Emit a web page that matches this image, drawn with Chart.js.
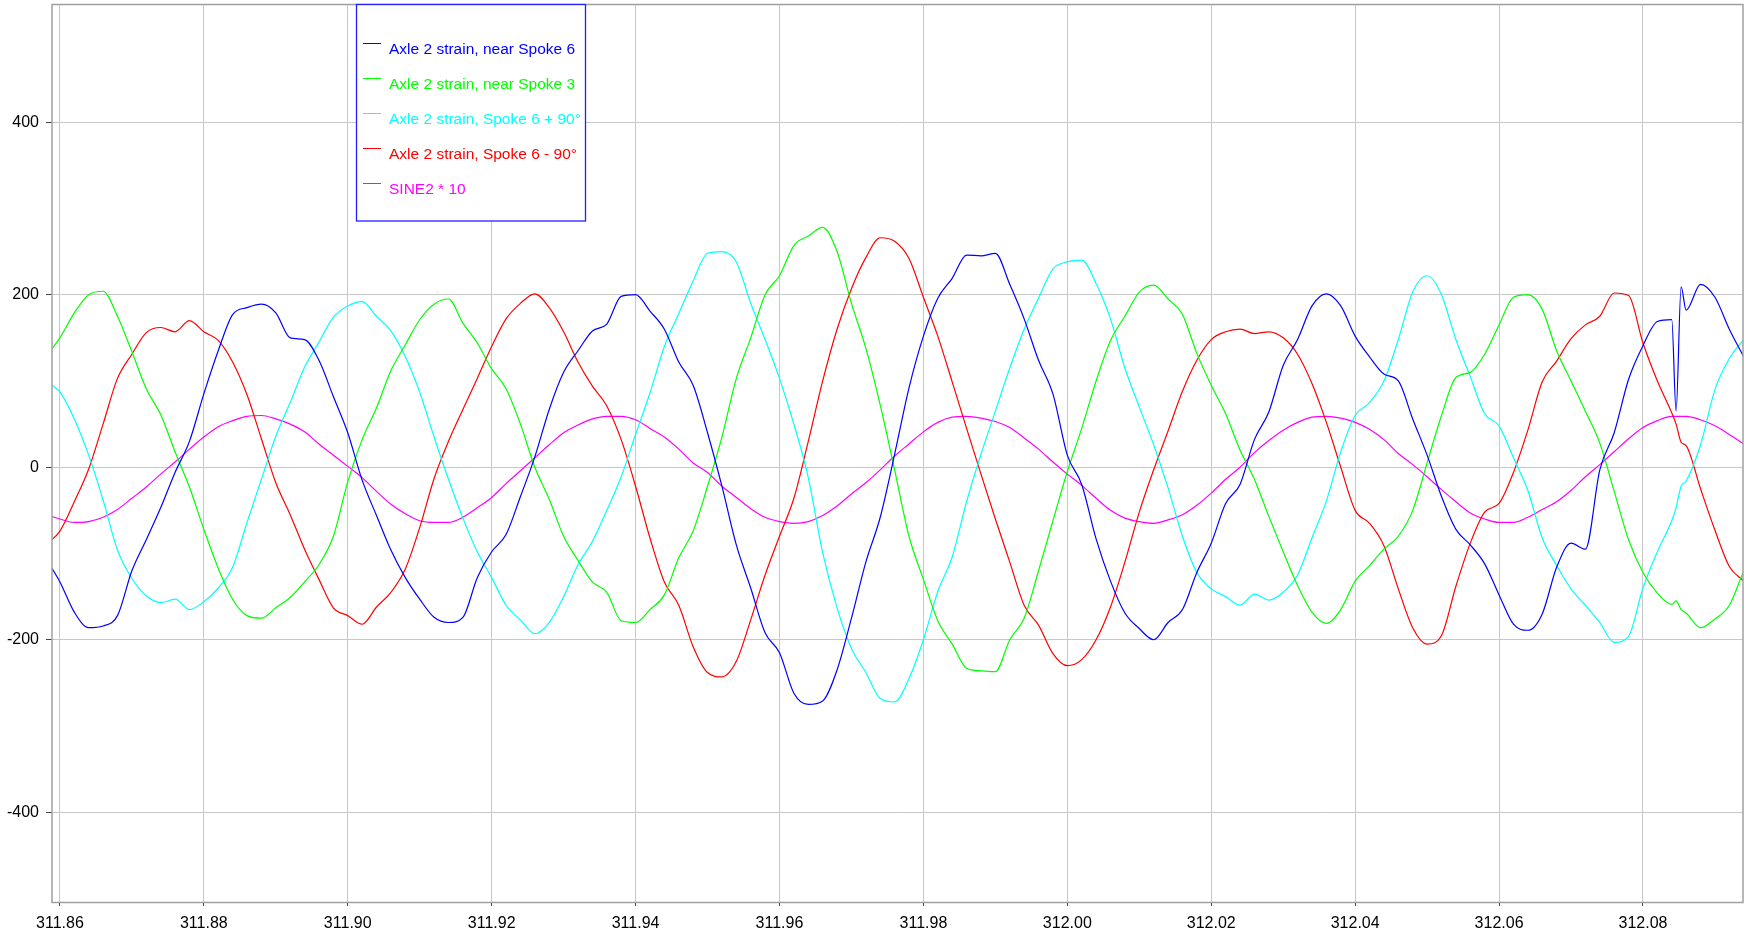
<!DOCTYPE html>
<html>
<head>
<meta charset="utf-8">
<style>
  html, body { margin: 0; padding: 0; background: #ffffff; }
  canvas { display: block; }
</style>
<script src="https://cdn.jsdelivr.net/npm/chart.js@4/dist/chart.umd.min.js"></script>
</head>
<body>
<canvas id="c" width="1750" height="937"></canvas>
<script>
// ---- data ----
const seriesLabels = [
  'Axle 2 strain, near Spoke 6',
  'Axle 2 strain, near Spoke 3',
  'Axle 2 strain, Spoke 6 + 90°',
  'Axle 2 strain, Spoke 6 - 90°',
  'SINE2 * 10'
];

const xTickValues = [311.86, 311.88, 311.90, 311.92, 311.94, 311.96, 311.98, 312.00, 312.02, 312.04, 312.06, 312.08];
const yTickValues = [-400, -200, 0, 200, 400];

const times = [
  311.858, 311.860, 311.862, 311.864, 311.866, 311.868, 311.870, 311.872, 311.874, 311.876,
  311.878, 311.880, 311.882, 311.884, 311.886, 311.888, 311.890, 311.892, 311.894, 311.896,
  311.898, 311.900, 311.902, 311.904, 311.906, 311.908, 311.910, 311.912, 311.914, 311.916,
  311.918, 311.920, 311.922, 311.924, 311.926, 311.928, 311.930, 311.932, 311.934, 311.936,
  311.938, 311.940, 311.942, 311.944, 311.946, 311.948, 311.950, 311.952, 311.954, 311.956,
  311.958, 311.960, 311.962, 311.964, 311.966, 311.968, 311.970, 311.972, 311.974, 311.976,
  311.978, 311.980, 311.982, 311.984, 311.986, 311.988, 311.990, 311.992, 311.994, 311.996,
  311.998, 312.000, 312.002, 312.004, 312.006, 312.008, 312.010, 312.012, 312.014, 312.016,
  312.018, 312.020, 312.022, 312.024, 312.026, 312.028, 312.030, 312.032, 312.034, 312.036,
  312.038, 312.040, 312.042, 312.044, 312.046, 312.048, 312.050, 312.052, 312.054, 312.056,
  312.058, 312.060, 312.062, 312.064, 312.066, 312.068, 312.070, 312.072, 312.074, 312.076,
  312.078, 312.080, 312.082, 312.084, 312.0846, 312.0853, 312.086, 312.088, 312.090, 312.092,
  312.094
];

const nearSpoke6 = [
  -105, -133, -168, -186, -184, -172, -120, -84, -47, -6,
  30, 85, 135, 177, 185, 189, 179, 150, 148, 124,
  82, 40, -15, -56, -96, -128, -153, -174, -180, -174,
  -128, -98, -78, -34, 12, 67, 110, 135, 158, 166,
  198, 200, 181, 160, 122, 95, 40, -22, -90, -140,
  -192, -215, -262, -275, -271, -235, -175, -110, -58, 15,
  92, 152, 196, 219, 246, 245, 248, 212, 172, 124,
  85, 14, -20, -83, -132, -169, -187, -200, -180, -165,
  -122, -88, -42, -20, 32, 64, 118, 148, 187, 201,
  187, 152, 128, 108, 100, 56, 14, -34, -72, -90,
  -112, -148, -182, -189, -170, -116, -88, -95, -3, 40,
  102, 141, 169, 171, 65, 209, 182, 212, 197, 160,
  128
];

const nearSpoke3 = [
  128, 150, 179, 200, 204, 175, 134, 91, 61, 18,
  -23, -72, -117, -153, -172, -175, -163, -151, -133, -113,
  -80, -17, 32, 69, 112, 142, 171, 189, 195, 167,
  144, 114, 91, 50, 0, -37, -80, -108, -133, -145,
  -178, -180, -165, -148, -105, -74, -22, 35, 103, 150,
  200, 222, 257, 268, 278, 250, 190, 138, 72, -3,
  -80, -130, -178, -205, -233, -236, -237, -200, -175, -120,
  -62, -5, 45, 100, 147, 175, 203, 211, 195, 177,
  132, 95, 62, 20, -14, -57, -98, -137, -168, -181,
  -165, -132, -114, -95, -80, -50, 5, 60, 104, 110,
  131, 165, 197, 200, 183, 135, 100, 65, 28, -28,
  -84, -122, -146, -159, -155, -165, -169, -186, -176, -160,
  -120
];

const spoke6Plus90 = [
  100, 87, 56, 14, -38, -96, -129, -149, -157, -153,
  -165, -156, -140, -116, -64, -14, 36, 75, 116, 145,
  174, 187, 192, 175, 158, 128, 87, 35, -14, -59,
  -98, -128, -160, -177, -193, -180, -150, -113, -86, -50,
  -11, 38, 86, 140, 178, 216, 248, 250, 238, 190,
  148, 103, 50, -12, -99, -163, -210, -238, -268, -272,
  -245, -200, -144, -104, -40, 15, 65, 115, 160, 196,
  230, 238, 240, 213, 172, 115, 70, 26, -24, -80,
  -122, -141, -150, -160, -147, -154, -145, -125, -82, -39,
  18, 60, 75, 100, 148, 203, 222, 200, 148, 105,
  62, 48, 11, -27, -82, -114, -141, -160, -180, -203,
  -196, -140, -98, -62, -47, -22, -16, 26, 90, 126,
  148
];

const spoke6Minus90 = [
  -90, -74, -40, -2, 50, 103, 131, 156, 162, 157,
  170, 157, 147, 122, 84, 33, -18, -55, -95, -130,
  -163, -172, -182, -162, -145, -118, -70, -13, 30, 67,
  103, 140, 172, 190, 201, 185, 157, 122, 94, 71,
  32, -22, -82, -133, -160, -208, -238, -243, -225, -177,
  -125, -80, -36, 30, 100, 160, 207, 243, 266, 262,
  242, 197, 152, 99, 45, -8, -60, -110, -160, -183,
  -216, -230, -223, -200, -162, -110, -52, -3, 42, 88,
  124, 148, 157, 160, 155, 157, 150, 131, 97, 52,
  0, -50, -65, -91, -141, -186, -205, -195, -138, -88,
  -52, -42, -6, 43, 99, 123, 149, 165, 175, 202,
  199, 144, 100, 63, 50, 29, 25, -25, -73, -115,
  -132
];

const sine2x10 = [
  -55, -60, -64, -63, -58, -49, -36, -23, -8, 6,
  21, 35, 47, 54, 59, 60, 56, 50, 41, 27,
  14, 1, -12, -28, -43, -54, -62, -64, -64, -58,
  -47, -35, -19, -4, 11, 26, 40, 49, 56, 59,
  59, 55, 45, 35, 21, 5, -6, -22, -35, -48,
  -58, -63, -65, -63, -56, -45, -31, -18, -3, 13,
  27, 41, 52, 58, 59, 57, 53, 46, 34, 21,
  6, -8, -21, -36, -50, -59, -63, -65, -61, -55,
  -44, -30, -14, 0, 17, 31, 43, 52, 58, 59,
  57, 52, 44, 32, 16, 3, -11, -26, -40, -53,
  -60, -64, -64, -58, -49, -40, -27, -11, 3, 18,
  33, 46, 54, 59, 59, 59, 59, 55, 48, 38,
  27
];

const seriesValues = [nearSpoke6, nearSpoke3, spoke6Plus90, spoke6Minus90, sine2x10];
const seriesColors = ['#0000ff', '#00ff00', '#00ffff', '#ff0000', '#ff00ff'];

// ---- chart ----
const FONT = '"Liberation Sans", Arial, Helvetica, sans-serif';

const datasets = seriesValues.map((vals, i) => ({
  label: seriesLabels[i],
  data: times.map((t, j) => ({ x: t, y: vals[j] })),
  borderColor: seriesColors[i],
  backgroundColor: seriesColors[i],
  borderWidth: 1.2,
  pointRadius: 0,
  fill: false,
  cubicInterpolationMode: 'monotone'
}));

const framePlugin = {
  id: 'frame',
  afterDatasetsDraw(chart) {
    const a = chart.chartArea, ctx = chart.ctx;
    ctx.save();
    ctx.strokeStyle = '#a0a0a0';
    ctx.lineWidth = 1.5;
    ctx.strokeRect(a.left, a.top + 0.5, a.right - a.left, a.bottom - a.top);
    ctx.restore();
  }
};

const boxLegendPlugin = {
  id: 'boxLegend',
  afterDraw(chart) {
    const ctx = chart.ctx;
    const bx = 356.5, by = 4.5, bw = 229, bh = 216.5;
    ctx.save();
    ctx.fillStyle = '#ffffff';
    ctx.fillRect(bx, by, bw, bh);
    ctx.strokeStyle = '#2020ff';
    ctx.lineWidth = 1.3;
    ctx.strokeRect(bx, by, bw, bh);
    ctx.font = '15.5px ' + FONT;
    ctx.textBaseline = 'middle';
    ctx.textAlign = 'left';
    chart.data.datasets.forEach((ds, i) => {
      const ty = 50 + 35 * i;
      ctx.strokeStyle = ds.borderColor;
      ctx.lineWidth = 1;
      ctx.beginPath();
      ctx.moveTo(363, ty - 6.5);
      ctx.lineTo(381, ty - 6.5);
      ctx.stroke();
      ctx.fillStyle = ds.borderColor;
      ctx.fillText(ds.label, 389, ty);
    });
    ctx.restore();
  }
};

new Chart(document.getElementById('c'), {
  type: 'line',
  data: { datasets },
  options: {
    responsive: false,
    animation: false,
    events: [],
    layout: { padding: { left: 0, right: 7, top: 4, bottom: 0 } },
    plugins: {
      legend: { display: false },
      tooltip: { enabled: false }
    },
    scales: {
      x: {
        type: 'linear',
        min: 311.8589,
        max: 312.0939,
        afterBuildTicks: s => { s.ticks = xTickValues.map(v => ({ value: v })); },
        afterFit: s => { s.height = 35; s.paddingLeft = 0; s.paddingRight = 0; },
        border: { display: false },
        grid: { color: '#c8c8c8', lineWidth: 1, tickColor: '#404040', tickLength: 4 },
        ticks: {
          autoSkip: false, maxRotation: 0, minRotation: 0, padding: 8,
          color: '#000000', font: { family: FONT, size: 16 },
          callback: v => Number(v).toFixed(2)
        }
      },
      y: {
        type: 'linear',
        min: -504,
        max: 537,
        afterBuildTicks: s => { s.ticks = yTickValues.map(v => ({ value: v })); },
        afterFit: s => { s.width = 52; s.paddingTop = 0; s.paddingBottom = 0; },
        border: { display: false },
        grid: { color: '#c8c8c8', lineWidth: 1, tickColor: '#404040', tickLength: 6 },
        ticks: {
          autoSkip: false, padding: 7,
          color: '#000000', font: { family: FONT, size: 16 },
          callback: v => String(v)
        }
      }
    }
  },
  plugins: [framePlugin, boxLegendPlugin]
});
</script>
</body>
</html>
